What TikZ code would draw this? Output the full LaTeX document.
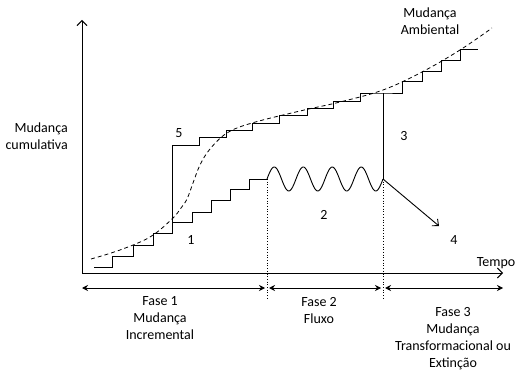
\documentclass[tikz,border=0pt]{standalone}
\usepackage{fontspec}
\setmainfont{Carlito}
\usetikzlibrary{arrows.meta}
\begin{document}
\begin{tikzpicture}[x=1pt,y=-1pt,
  ln/.style={line width=0.9pt,line join=miter},
  axis/.style={line width=0.9pt,-{Straight Barb[length=5pt,width=10pt,line width=0.9pt]}},
  phase/.style={line width=0.9pt,{Stealth[length=6pt,width=6pt]}-{Stealth[length=6pt,width=6pt]}},
  env/.style={line width=0.8pt,dash pattern=on 4pt off 3pt},
  dot/.style={line width=0.7pt,dotted},
  txt/.style={inner sep=0pt,anchor=base,font=\fontsize{14}{17}\selectfont,align=center}]
\useasboundingbox (0,0) rectangle (529,371);
% axes
\coordinate (O) at (82,273);
\coordinate (ytop) at (82,20);
\coordinate (xend) at (503,273);
\draw[axis] (O) -- (ytop);
\draw[axis] (O) -- (xend);
% key points
\coordinate (s0) at (94,267);
\coordinate (w0) at (267,179);
\coordinate (w1) at (383,179);
\coordinate (c5) at (172,222);
\coordinate (t5) at (172,145);
\coordinate (t3) at (383,93);
\coordinate (e4) at (439,226);
\coordinate (d1) at (267,298);
\coordinate (d2) at (383,298);
% environment (dashed)
\draw[env] plot[smooth,tension=0.6] coordinates {(91,259) (120,250) (150,237) (172,219) (181,208) (187,199) (193,183) (200,165) (210,149) (227,133) (252,123) (300,111) (340,102) (383,90) (422,72) (460,50) (492,28)};
% incremental staircase (1)
\draw[ln] (s0) -- (112,267) -- (112,256) -- (133,256) -- (133,245) -- (153,245) -- (153,233) -- (172,233) -- (c5) -- (192,222) -- (192,212) -- (211,212) -- (211,200) -- (230,200) -- (230,189) -- (249,189) -- (249,179) -- (w0);
% flux wave (2)
\draw[ln] plot[domain=0:116,samples=150,smooth] ({267+\x},{179-12*sin(\x/29*360)});
% line 5 and upper staircase
\draw[ln] (c5) -- (t5) -- (199,145) -- (199,137) -- (226,137) -- (226,130) -- (252,130) -- (252,123) -- (279,123) -- (279,115) -- (307,115) -- (307,108) -- (333,108) -- (333,101) -- (360,101) -- (360,93) -- (t3) -- (402,93) -- (402,81) -- (422,81) -- (422,71) -- (441,71) -- (441,60) -- (460,60) -- (460,49) -- (478,49);
% line 3
\draw[ln] (w1) -- (t3);
% arrow 4
\draw[axis,-{Straight Barb[length=5pt,width=9pt,line width=0.9pt]}] (w1) -- (e4);
% dotted separators
\draw[dot] (w0) -- (d1);
\draw[dot] (w1) -- (d2);
% phase arrows
\coordinate (p0) at (82,288);
\coordinate (p1) at (265,288);
\coordinate (p2) at (269,288);
\coordinate (p3) at (381,288);
\coordinate (p4) at (385,288);
\coordinate (p5) at (503,288);
\draw[phase] (p0) -- (p1);
\draw[phase] (p2) -- (p3);
\draw[phase] (p4) -- (p5);
% labels
\node[txt] (l5) at (179,138) {5};
\node[txt] (l1) at (191,244) {1};
\node[txt] (l2) at (324,219) {2};
\node[txt] (l3) at (404,141) {3};
\node[txt] (l4) at (454,244) {4};
\node[txt] (tempo) at (496,266) {Tempo};
\node[txt] (amb) at (430,35) {Mudança\\Ambiental};
\node[txt,align=right,anchor=base east] (cum) at (68,150) {Mudança\\cumulativa};
\node[txt] (f1) at (160,339) {Fase 1\\Mudança\\Incremental};
\node[txt] (f2) at (319,323) {Fase 2\\Fluxo};
\node[txt] (f3) at (453,367) {Fase 3\\Mudança\\Transformacional ou\\Extinção};
\end{tikzpicture}
\end{document}
